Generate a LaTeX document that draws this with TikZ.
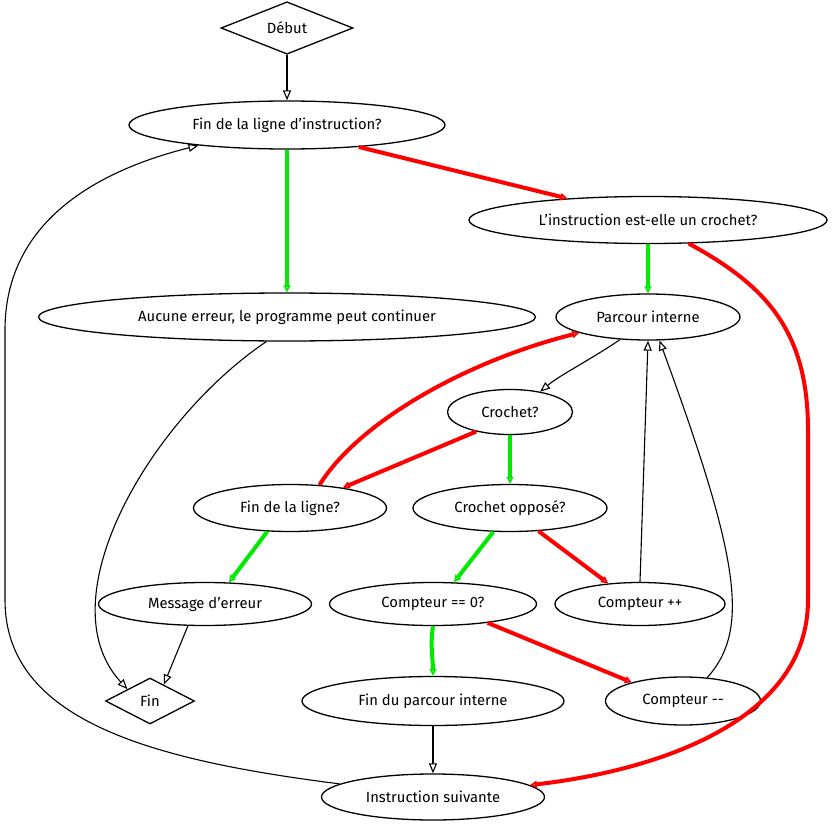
\documentclass[tikz,border=0pt]{standalone}
\usepackage{fontspec}
\setmainfont{Fira Sans}
\usetikzlibrary{shapes.geometric,arrows.meta}
\definecolor{gr}{RGB}{0,235,0}
\definecolor{rd}{RGB}{255,0,0}
\begin{document}
\begin{tikzpicture}[x=1pt,y=-1pt,
  every node/.style={font=\fontsize{14.8}{17}\selectfont, inner sep=0pt},
  ell/.style={ellipse, draw=black, line width=1.3pt, fill=white},
  dia/.style={diamond, draw=black, line width=1.3pt, fill=white},
  blk/.style={draw=black, line width=1.1pt, -{Triangle[open,length=10pt,width=8pt]}},
  grn/.style={draw=gr, line width=4pt, -{Triangle[open,length=7pt,width=7pt,line width=2pt]}},
  red/.style={draw=rd, line width=4pt, -{Triangle[open,length=7pt,width=7pt,line width=2pt]}},
  ]
\useasboundingbox (0,0) rectangle (839,827);
\node[dia, minimum width=132pt, minimum height=48pt] (deb) at (287,28) {Début};
\node[ell, minimum width=316pt, minimum height=48pt] (fli) at (287,125) {Fin de la ligne d'instruction?};
\node[ell, minimum width=358pt, minimum height=47pt] (lin) at (648,220) {L'instruction est-elle un crochet?};
\node[ell, minimum width=497pt, minimum height=48pt] (auc) at (287,317) {Aucune erreur, le programme peut continuer};
\node[ell, minimum width=184pt, minimum height=46pt] (par) at (648,317) {Parcour interne};
\node[ell, minimum width=125pt, minimum height=45pt] (cro) at (510,412) {Crochet?};
\node[ell, minimum width=193pt, minimum height=47pt] (fdl) at (290,508) {Fin de la ligne?};
\node[ell, minimum width=194pt, minimum height=47pt] (cop) at (510,508) {Crochet opposé?};
\node[ell, minimum width=213pt, minimum height=43pt] (msg) at (205,604) {Message d'erreur};
\node[ell, minimum width=207pt, minimum height=43pt] (cz) at (433,604) {Compteur == 0?};
\node[ell, minimum width=170pt, minimum height=43pt] (cpp) at (640,604) {Compteur ++};
\node[dia, minimum width=89pt, minimum height=46pt] (fin) at (150,701) {Fin};
\node[ell, minimum width=262pt, minimum height=49pt] (fdp) at (433,701) {Fin du parcour interne};
\node[ell, minimum width=155pt, minimum height=48pt] (cmm) at (683,701) {Compteur -{}-};
\node[ell, minimum width=223pt, minimum height=46pt] (ins) at (433,797) {Instruction suivante};

\draw[blk] (deb.south) -- (fli.north);
\draw[grn] (fli.south) -- (auc.north);
\draw[red] (fli.-17) -- (lin.165);
\draw[grn] (lin.south) -- (par.north);
\draw[red] (lin.-30) .. controls (765,285) and (808,330) .. (808,430) -- (808,600) .. controls (808,720) and (660,770) .. (ins.7);
\draw[blk] (auc.-130) .. controls (150,420) and (45,600) .. (fin.north west);
\draw[blk] (par.-141) .. controls (590,360) and (560,375) .. (cro.34);
\draw[red] (cro.-150) -- (fdl.21);
\draw[grn] (cro.south) -- (cop.north);
\draw[red] (fdl.38) .. controls (360,420) and (470,360) .. (par.-167);
\draw[grn] (fdl.-134) -- (msg.42);
\draw[blk] (msg.-128) -- (fin.50);
\draw[grn] (cop.-125) -- (cz.46);
\draw[red] (cop.-39) -- (cpp.147);
\draw[grn] (cz.south) .. controls (430,645) and (433,660) .. (fdp.north);
\draw[red] (cz.-19) -- (cmm.160);
\draw[blk] (cpp.north) -- (par.south);
\draw[blk] (cmm.44) .. controls (750,630) and (740,560) .. (par.-64);
\draw[blk] (fdp.south) -- (ins.north);
\draw[blk] (ins.172) .. controls (150,760) and (5,720) .. (5,600) -- (5,330) .. controls (5,220) and (100,170) .. (fli.-167);
\end{tikzpicture}
\end{document}
